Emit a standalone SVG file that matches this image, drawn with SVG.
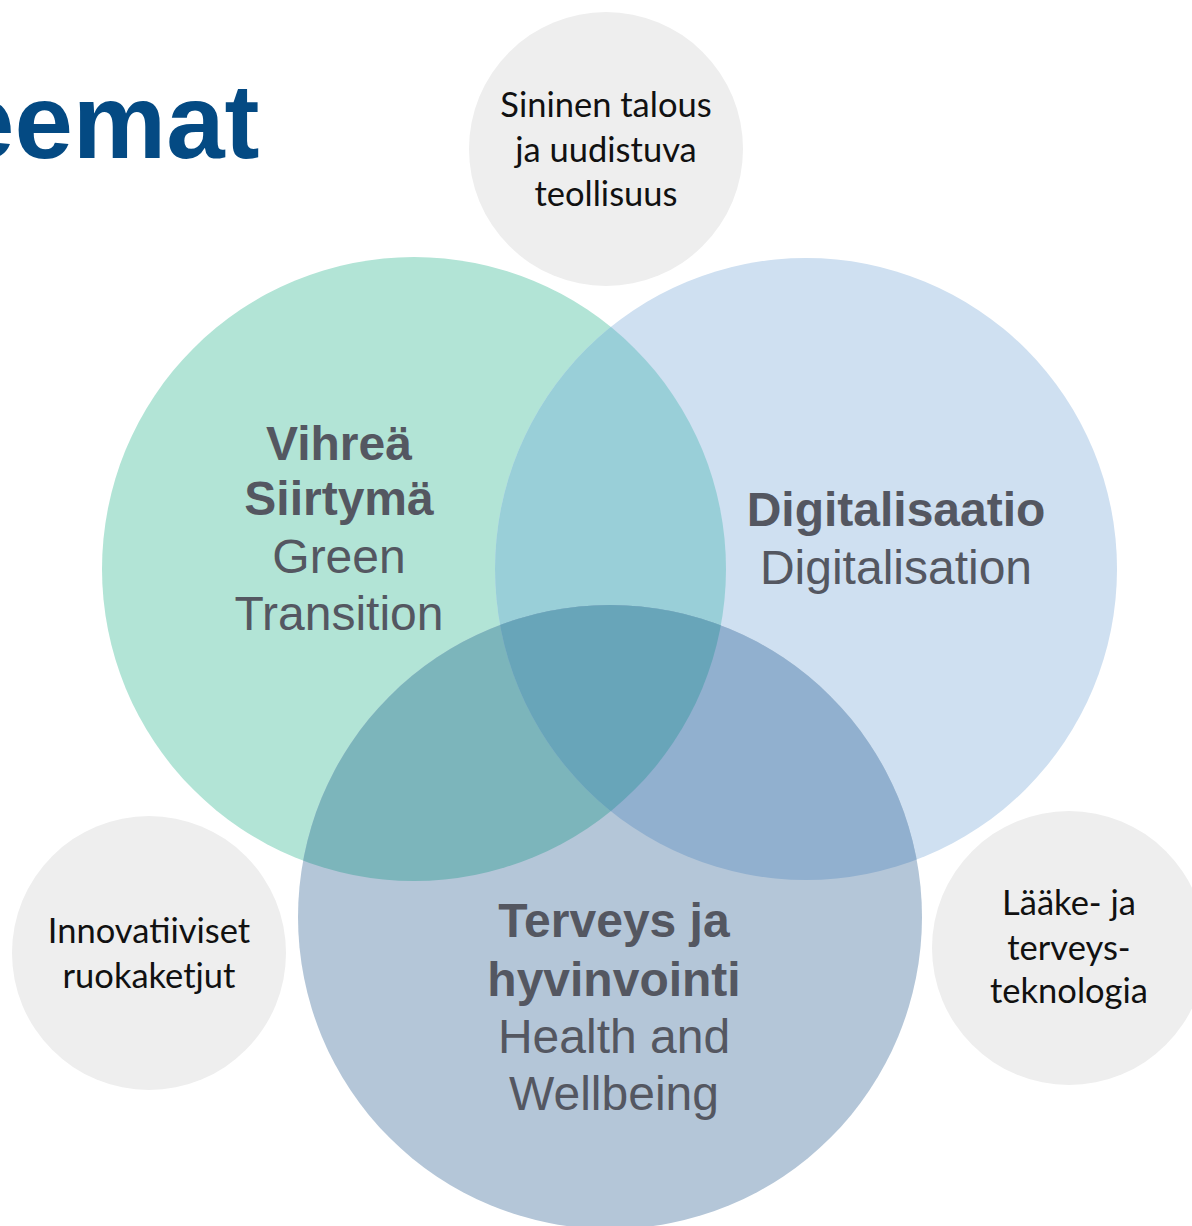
<svg xmlns="http://www.w3.org/2000/svg" width="1192" height="1226" viewBox="0 0 1192 1226">
<style>
.title{font-family:"Liberation Sans",Arial,sans-serif;font-weight:bold;font-size:105px;fill:#044a83}
.big{font-family:"Liberation Sans",Arial,sans-serif;font-size:48px;fill:#545761;text-anchor:middle}
.b{font-weight:bold}
.small{font-family:Lato,"Open Sans",sans-serif;font-size:34.5px;fill:#111111;text-anchor:middle}
.grey{fill:#eeeeee}
</style>
<defs>
<clipPath id="clipG"><circle cx="414" cy="569" r="312"/></clipPath>
<clipPath id="clipB"><circle cx="806" cy="569" r="311"/></clipPath>
</defs>
<rect width="1192" height="1226" fill="#ffffff"/>
<text class="title" x="-44" y="158">eemat</text>

<g id="node-sininen">
<circle class="grey" cx="606" cy="149" r="137"/>
<text class="small" x="606" y="117">Sininen talous</text>
<text class="small" x="606" y="162">ja uudistuva</text>
<text class="small" x="606" y="206">teollisuus</text>
</g>

<g id="node-vihrea">
<circle cx="414" cy="569" r="312" fill="#b2e4d6"/>
</g>
<g id="node-digi">
<circle cx="806" cy="569" r="311" fill="#cfe0f1"/>
</g>
<g id="node-terveys">
<circle cx="610" cy="917" r="312" fill="#b4c6d8"/>
</g>

<g id="overlaps">
<circle cx="806" cy="569" r="311" fill="#99cfd8" clip-path="url(#clipG)"/>
<circle cx="610" cy="917" r="312" fill="#7cb5bb" clip-path="url(#clipG)"/>
<circle cx="610" cy="917" r="312" fill="#91b0cf" clip-path="url(#clipB)"/>
<g clip-path="url(#clipB)">
<circle cx="610" cy="917" r="312" fill="#68a5b9" clip-path="url(#clipG)"/>
</g>
</g>

<g id="labels">
<text class="big b" x="339" y="460">Vihreä</text>
<text class="big b" x="339" y="515">Siirtymä</text>
<text class="big" x="339" y="573">Green</text>
<text class="big" x="339" y="630">Transition</text>

<text class="big b" x="896" y="526">Digitalisaatio</text>
<text class="big" x="896" y="584">Digitalisation</text>

<text class="big b" x="614" y="937">Terveys ja</text>
<text class="big b" x="614" y="996">hyvinvointi</text>
<text class="big" x="614" y="1053">Health and</text>
<text class="big" x="614" y="1110">Wellbeing</text>
</g>

<g id="node-ruoka">
<circle class="grey" cx="149" cy="953" r="137"/>
<text class="small" x="149" y="943">Innovatiiviset</text>
<text class="small" x="149" y="988">ruokaketjut</text>
</g>

<g id="node-laake">
<circle class="grey" cx="1069" cy="948" r="137"/>
<text class="small" x="1069" y="915">Lääke- ja</text>
<text class="small" x="1069" y="960">terveys-</text>
<text class="small" x="1069" y="1003">teknologia</text>
</g>

<g id="connectors"/>
</svg>
